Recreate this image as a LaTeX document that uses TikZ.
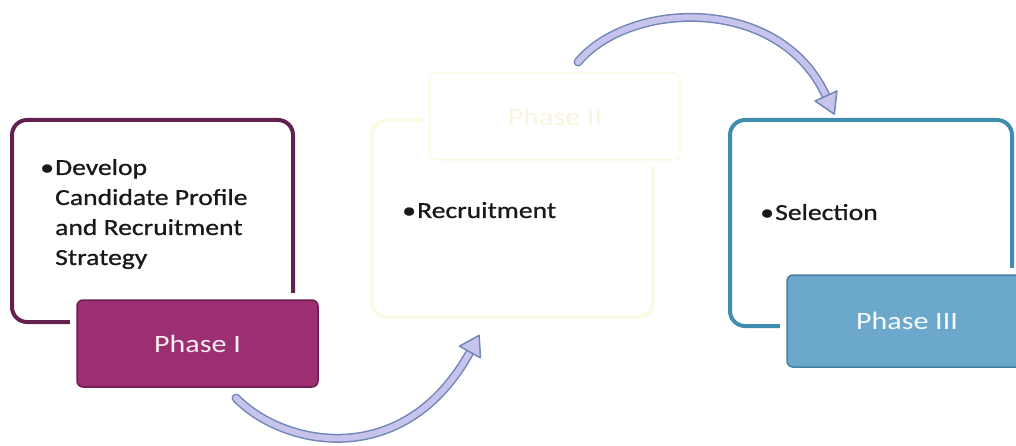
\documentclass[tikz,border=0pt]{standalone}
\usepackage{fontspec}
\setmainfont{Carlito}
\newfontfamily\heavyfont[FakeBold=0.8]{Carlito}
\usetikzlibrary{calc}
\definecolor{purpleline}{HTML}{63214F}
\definecolor{purplefill}{HTML}{9C2F72}
\definecolor{purpleborder}{HTML}{6A1E52}
\definecolor{yelline}{HTML}{FCF9E6}
\definecolor{yeltext}{HTML}{FAF6DE}
\definecolor{blueline}{HTML}{3F8DB1}
\definecolor{bluefill}{HTML}{6BA8CC}
\definecolor{blueborder}{HTML}{477FA0}
\definecolor{arrowline}{HTML}{7287B6}
\definecolor{arrowfill}{HTML}{C6C4EC}
\newcommand{\wide}[1]{\scalebox{1.2}[1]{#1}}
\tikzset{
  outlinebox/.style={rectangle, rounded corners=15pt, line width=4pt, inner sep=0pt},
  tabbox/.style={rectangle, rounded corners=6pt, line width=1.5pt, inner sep=0pt,
     preaction={draw=white, line width=14pt}},
  bodytext/.style={anchor=base west, inner sep=0pt, text=black!90,
     font=\heavyfont\fontsize{23}{30}\selectfont},
  tabtext/.style={inner sep=0pt, font=\fontsize{25}{30}\selectfont},
  shaftouter/.style={draw=arrowline, line width=9pt, line cap=round},
  shaftinner/.style={draw=arrowfill, line width=6pt, line cap=round},
  arrowhead/.style={fill=arrowfill, draw=arrowline, line width=1.5pt, line join=round},
}
\begin{document}
\begin{tikzpicture}[x=1pt,y=-1pt]
\useasboundingbox (0,0) rectangle (1016,446);
% Phase I
\node[outlinebox, draw=purpleline, minimum width=281pt, minimum height=202pt] (o1) at (152.5,221) {};
\node[tabbox, fill=purplefill, draw=purpleborder, minimum width=241pt, minimum height=87pt] (t1) at (197.5,343.5) {};
\node[tabtext, text=purplefill!8!white] (l1) at (t1.center) {\wide{Phase I}};
\node[bodytext] (b1) at (55,175) {\wide{\begin{tabular}[t]{@{}l@{}}\llap{\textbullet\kern1pt}Develop\\Candidate Profile\\and Recruitment\\Strategy\end{tabular}}};
% Phase II
\node[outlinebox, draw=yelline, minimum width=281pt, minimum height=197pt] (o2) at (512.5,218.5) {};
\node[tabbox, fill=white, draw=yelline, minimum width=250pt, minimum height=87pt] (t2) at (555,116.5) {};
\node[tabtext, text=yeltext] (l2) at (t2.center) {\wide{Phase II}};
\node[bodytext] (b2) at (417,218) {\wide{\llap{\textbullet\kern1pt}Recruitment}};
% Phase III
\node[outlinebox, draw=blueline, minimum width=282pt, minimum height=206pt] (o3) at (871,223) {};
\node[tabbox, fill=bluefill, draw=blueborder, minimum width=240pt, minimum height=92pt] (t3) at (907,321) {};
\node[tabtext, text=white!94!bluefill] (l3) at (t3.center) {\wide{Phase III}};
\node[bodytext] (b3) at (775,220) {\wide{\llap{\textbullet\kern1pt}Selection}};
% Arrow 1
\coordinate (a1s) at (236,398);
\coordinate (a1e) at (470,352);
\coordinate (a1l) at (459.5,346.2);
\coordinate (a1r) at (480.5,357.8);
\coordinate (a1t) at (479.1,335.3);
\draw[shaftouter] (a1s) .. controls (285,448) and (405,470) .. (a1e);
\draw[shaftinner] (a1s) .. controls (285,448) and (405,470) .. (a1e);
\draw[arrowhead] (a1l) -- (a1t) -- (a1r) -- cycle;
% Arrow 2
\coordinate (a2s) at (578,62);
\coordinate (a2e) at (826,96);
\coordinate (a2l) at (836.9,91);
\coordinate (a2r) at (815.1,101);
\coordinate (a2t) at (834.3,114.2);
\draw[shaftouter] (a2s) .. controls (630,0) and (780,-5) .. (a2e);
\draw[shaftinner] (a2s) .. controls (630,0) and (780,-5) .. (a2e);
\draw[arrowhead] (a2l) -- (a2t) -- (a2r) -- cycle;
\end{tikzpicture}
\end{document}
